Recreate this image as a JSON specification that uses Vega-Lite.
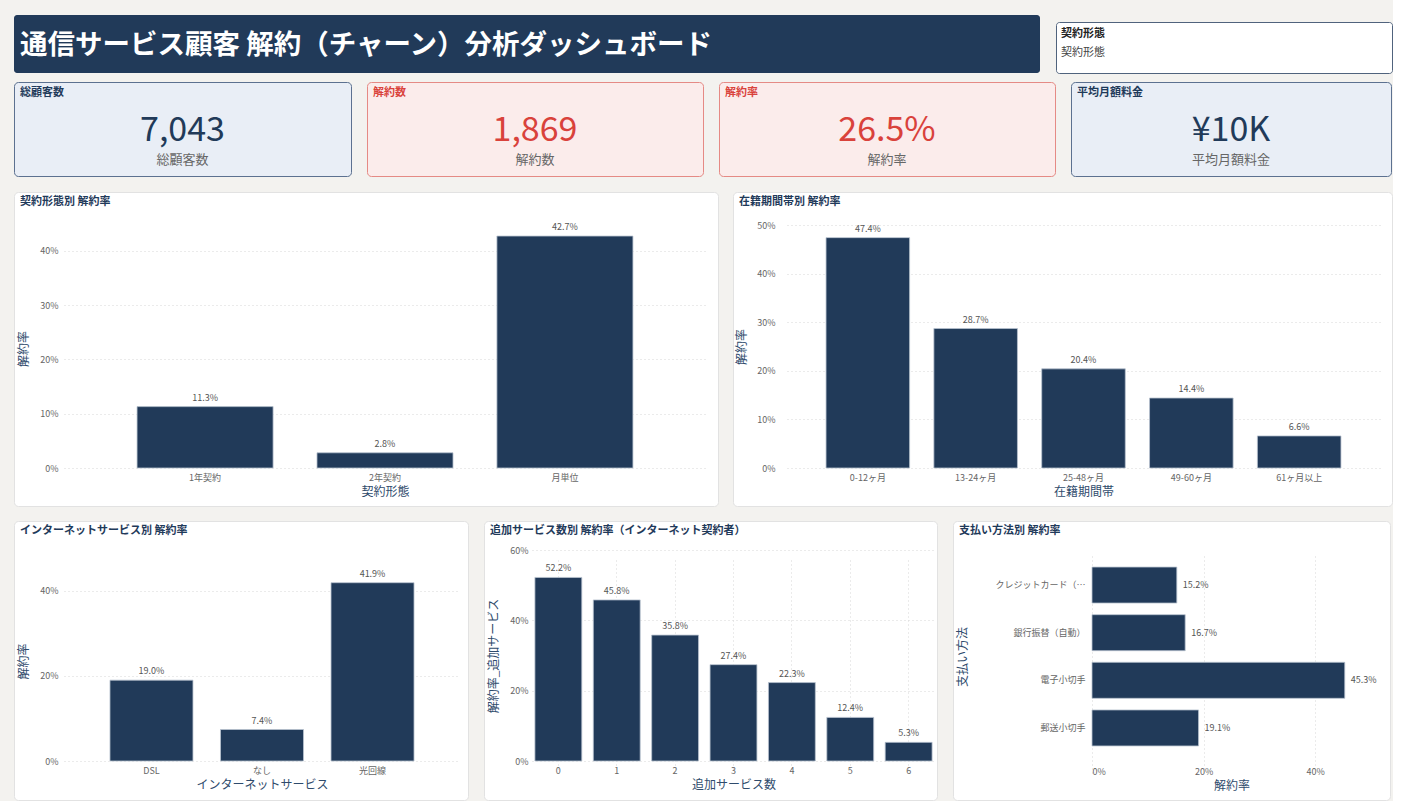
{
  "$schema": "https://vega.github.io/schema/vega-lite/v6.json",
  "background": "#f3f2ef",
  "padding": {"left": 13, "top": 15, "right": 0, "bottom": 0},
  "spacing": 14,
  "vconcat": [
    {
      "spacing": 7,
      "vconcat": [
        {
          "spacing": 15,
          "hconcat": [
            {
              "width": 1026,
              "height": 58,
              "view": {"fill": "#213a59", "stroke": null, "cornerRadius": 3},
              "title": {"text": "通信サービス顧客 解約（チャーン）分析ダッシュボード", "fontSize": 27.5, "color": "#ffffff", "offset": -44, "dx": 6},
              "data": {"values": [{}]},
              "mark": {"type": "text", "fontSize": 0},
              "encoding": {"text": {"value": ""}}
            },
            {
              "bounds": "flush",
              "spacing": 6,
              "vconcat": [
                {
                  "width": 336,
                  "height": 1,
                  "view": {"fill": null, "stroke": null},
                  "data": {"values": [{}]},
                  "mark": {"type": "text", "fontSize": 0},
                  "encoding": {"text": {"value": ""}}
                },
                {
                  "width": 336,
                  "height": 51,
                  "view": {"fill": "#ffffff", "stroke": "#50637d", "cornerRadius": 3},
                  "title": {"text": "契約形態", "subtitle": "契約形態", "fontSize": 11, "color": "#222222", "subtitleColor": "#444444", "subtitleFontSize": 11, "subtitlePadding": 8, "offset": -36, "dx": 5},
                  "data": {"values": [{}]},
                  "mark": {"type": "text", "fontSize": 0},
                  "encoding": {"text": {"value": ""}}
                }
              ]
            }
          ]
        },
        {
          "bounds": "flush",
          "spacing": 16,
          "hconcat": [
            {
              "width": 337,
              "height": 94,
              "view": {"fill": "#e9eef6", "stroke": "#5c7190", "cornerRadius": 4},
              "title": {"text": "総顧客数", "offset": -16, "dx": 6},
              "data": {"values": [{"value": "7,043", "label": "総顧客数"}]},
              "layer": [
                {"mark": {"type": "text", "fontSize": 34, "color": "#213a59", "baseline": "middle", "dy": 2}, "encoding": {"text": {"field": "value"}}},
                {"mark": {"type": "text", "fontSize": 13, "color": "#666666", "baseline": "middle", "dy": 31}, "encoding": {"text": {"field": "label"}}}
              ]
            },
            {
              "width": 336,
              "height": 94,
              "view": {"fill": "#fbeceb", "stroke": "#e58a85", "cornerRadius": 4},
              "title": {"text": "解約数", "offset": -16, "dx": 6, "color": "#d9423b"},
              "data": {"values": [{"value": "1,869", "label": "解約数"}]},
              "layer": [
                {"mark": {"type": "text", "fontSize": 34, "color": "#d9423b", "baseline": "middle", "dy": 2}, "encoding": {"text": {"field": "value"}}},
                {"mark": {"type": "text", "fontSize": 13, "color": "#666666", "baseline": "middle", "dy": 31}, "encoding": {"text": {"field": "label"}}}
              ]
            },
            {
              "width": 336,
              "height": 94,
              "view": {"fill": "#fbeceb", "stroke": "#e58a85", "cornerRadius": 4},
              "title": {"text": "解約率", "offset": -16, "dx": 6, "color": "#d9423b"},
              "data": {"values": [{"value": "26.5%", "label": "解約率"}]},
              "layer": [
                {"mark": {"type": "text", "fontSize": 34, "color": "#d9423b", "baseline": "middle", "dy": 2}, "encoding": {"text": {"field": "value"}}},
                {"mark": {"type": "text", "fontSize": 13, "color": "#666666", "baseline": "middle", "dy": 31}, "encoding": {"text": {"field": "label"}}}
              ]
            },
            {
              "width": 320,
              "height": 94,
              "view": {"fill": "#e9eef6", "stroke": "#5c7190", "cornerRadius": 4},
              "title": {"text": "平均月額料金", "offset": -16, "dx": 6},
              "data": {"values": [{"value": "¥10K", "label": "平均月額料金"}]},
              "layer": [
                {"mark": {"type": "text", "fontSize": 34, "color": "#213a59", "baseline": "middle", "dy": 2}, "encoding": {"text": {"field": "value"}}},
                {"mark": {"type": "text", "fontSize": 13, "color": "#666666", "baseline": "middle", "dy": 31}, "encoding": {"text": {"field": "label"}}}
              ]
            }
          ]
        }
      ]
    },
    {
      "spacing": 13,
      "vconcat": [
        {
          "bounds": "flush",
          "spacing": 15,
          "hconcat": [
            {
              "width": 704,
              "height": 314,
              "view": {"fill": "#ffffff", "stroke": "#e2e2e2", "cornerRadius": 4},
              "title": {"text": "契約形態別 解約率", "offset": -15, "dx": 6},
              "data": {"values": [
                {"契約形態": "1年契約", "解約率": 0.113},
                {"契約形態": "2年契約", "解約率": 0.028},
                {"契約形態": "月単位", "解約率": 0.427}
              ]},
              "encoding": {
                "x": {"field": "契約形態", "type": "nominal", "sort": null,
                  "scale": {"range": [50, 692], "paddingInner": 0.244, "paddingOuter": 0.406},
                  "axis": {"labelAngle": 0, "offset": -38, "labelPadding": 5, "title": "契約形態"}},
                "y": {"field": "解約率", "type": "quantitative",
                  "scale": {"domain": [0, 0.44], "range": [276, 37], "nice": false},
                  "axis": {"values": [0, 0.1, 0.2, 0.3, 0.4], "format": ".0%", "offset": -48, "titlePadding": 9}}
              },
              "layer": [
                {"mark": {"type": "bar", "color": "#213a59", "stroke": "#b9c3cf", "strokeWidth": 0.8}},
                {"mark": {"type": "text", "baseline": "bottom", "dy": -4, "fontSize": 9, "color": "#555555"},
                  "encoding": {"text": {"field": "解約率", "type": "quantitative", "format": ".1%"}}}
              ]
            },
            {
              "width": 659,
              "height": 314,
              "view": {"fill": "#ffffff", "stroke": "#e2e2e2", "cornerRadius": 4},
              "title": {"text": "在籍期間帯別 解約率", "offset": -15, "dx": 6},
              "data": {"values": [
                {"在籍期間帯": "0-12ヶ月", "解約率": 0.474},
                {"在籍期間帯": "13-24ヶ月", "解約率": 0.287},
                {"在籍期間帯": "25-48ヶ月", "解約率": 0.204},
                {"在籍期間帯": "49-60ヶ月", "解約率": 0.144},
                {"在籍期間帯": "61ヶ月以上", "解約率": 0.066}
              ]},
              "encoding": {
                "x": {"field": "在籍期間帯", "type": "nominal", "sort": null,
                  "scale": {"range": [54, 647], "paddingInner": 0.225, "paddingOuter": 0.362},
                  "axis": {"labelAngle": 0, "offset": -38, "labelPadding": 5, "title": "在籍期間帯"}},
                "y": {"field": "解約率", "type": "quantitative",
                  "scale": {"domain": [0, 0.5], "range": [276, 33], "nice": false},
                  "axis": {"values": [0, 0.1, 0.2, 0.3, 0.4, 0.5], "format": ".0%", "offset": -46, "titlePadding": 8}}
              },
              "layer": [
                {"mark": {"type": "bar", "color": "#213a59", "stroke": "#b9c3cf", "strokeWidth": 0.8}},
                {"mark": {"type": "text", "baseline": "bottom", "dy": -4, "fontSize": 9, "color": "#555555"},
                  "encoding": {"text": {"field": "解約率", "type": "quantitative", "format": ".1%"}}}
              ]
            }
          ]
        },
        {
          "bounds": "flush",
          "spacing": 16,
          "hconcat": [
            {
              "width": 454,
              "height": 279,
              "view": {"fill": "#ffffff", "stroke": "#e2e2e2", "cornerRadius": 4},
              "title": {"text": "インターネットサービス別 解約率", "offset": -15, "dx": 6},
              "data": {"values": [
                {"インターネットサービス": "DSL", "解約率": 0.190},
                {"インターネットサービス": "なし", "解約率": 0.074},
                {"インターネットサービス": "光回線", "解約率": 0.419}
              ]},
              "encoding": {
                "x": {"field": "インターネットサービス", "type": "nominal", "sort": null,
                  "scale": {"range": [50, 446], "paddingInner": 0.249, "paddingOuter": 0.416},
                  "axis": {"labelAngle": 0, "offset": -39, "labelPadding": 5, "title": "インターネットサービス"}},
                "y": {"field": "解約率", "type": "quantitative",
                  "scale": {"domain": [0, 0.47], "range": [240, 40], "nice": false},
                  "axis": {"values": [0, 0.2, 0.4], "format": ".0%", "offset": -48, "titlePadding": 9}}
              },
              "layer": [
                {"mark": {"type": "bar", "color": "#213a59", "stroke": "#b9c3cf", "strokeWidth": 0.8}},
                {"mark": {"type": "text", "baseline": "bottom", "dy": -4, "fontSize": 9, "color": "#555555"},
                  "encoding": {"text": {"field": "解約率", "type": "quantitative", "format": ".1%"}}}
              ]
            },
            {
              "width": 453,
              "height": 279,
              "view": {"fill": "#ffffff", "stroke": "#e2e2e2", "cornerRadius": 4},
              "title": {"text": "追加サービス数別 解約率（インターネット契約者）", "offset": -15, "dx": 6},
              "data": {"values": [
                {"追加サービス数": 0, "解約率": 0.522},
                {"追加サービス数": 1, "解約率": 0.458},
                {"追加サービス数": 2, "解約率": 0.358},
                {"追加サービス数": 3, "解約率": 0.274},
                {"追加サービス数": 4, "解約率": 0.223},
                {"追加サービス数": 5, "解約率": 0.124},
                {"追加サービス数": 6, "解約率": 0.053}
              ]},
              "encoding": {
                "x": {"field": "追加サービス数", "type": "ordinal",
                  "scale": {"range": [48, 451], "paddingInner": 0.197, "paddingOuter": 0.05},
                  "axis": {"labelAngle": 0, "offset": -39, "labelPadding": 5, "title": "追加サービス数", "grid": true, "bandPosition": 0.5}},
                "y": {"field": "解約率", "type": "quantitative",
                  "scale": {"domain": [0, 0.6], "range": [240, 29], "nice": false},
                  "axis": {"values": [0, 0.2, 0.4, 0.6], "format": ".0%", "offset": -48, "titlePadding": 9, "title": "解約率_追加サービス"}}
              },
              "layer": [
                {"mark": {"type": "bar", "color": "#213a59", "stroke": "#b9c3cf", "strokeWidth": 0.8}},
                {"mark": {"type": "text", "baseline": "bottom", "dy": -4, "fontSize": 9, "color": "#555555"},
                  "encoding": {"text": {"field": "解約率", "type": "quantitative", "format": ".1%"}}}
              ]
            },
            {
              "width": 437,
              "height": 279,
              "view": {"fill": "#ffffff", "stroke": "#e2e2e2", "cornerRadius": 4},
              "title": {"text": "支払い方法別 解約率", "offset": -15, "dx": 6},
              "data": {"values": [
                {"支払い方法": "クレジットカード（自動）", "解約率": 0.152},
                {"支払い方法": "銀行振替（自動）", "解約率": 0.167},
                {"支払い方法": "電子小切手", "解約率": 0.453},
                {"支払い方法": "郵送小切手", "解約率": 0.191}
              ]},
              "encoding": {
                "y": {"field": "支払い方法", "type": "nominal", "sort": null,
                  "scale": {"range": [27, 244], "paddingInner": 0.244, "paddingOuter": 0.4},
                  "axis": {"offset": -136, "title": "支払い方法", "labelLimit": 95, "titlePadding": 25}},
                "x": {"field": "解約率", "type": "quantitative",
                  "scale": {"domain": [0, 0.5], "range": [139, 418], "nice": false},
                  "axis": {"values": [0, 0.2, 0.4], "format": ".0%", "offset": -37, "title": "解約率"}}
              },
              "layer": [
                {"mark": {"type": "bar", "color": "#213a59", "stroke": "#b9c3cf", "strokeWidth": 0.8}},
                {"mark": {"type": "text", "align": "left", "baseline": "middle", "dx": 6, "fontSize": 9, "color": "#555555"},
                  "encoding": {"text": {"field": "解約率", "type": "quantitative", "format": ".1%"}}}
              ]
            }
          ]
        }
      ]
    }
  ],
  "config": {
    "font": "Noto Sans CJK JP",
    "title": {"anchor": "start", "frame": "group", "fontSize": 11, "fontWeight": "bold", "color": "#1f3a5a"},
    "axis": {
      "domain": false,
      "ticks": false,
      "labelFontSize": 9,
      "labelColor": "#666666",
      "labelPadding": 4,
      "titleFontSize": 12,
      "titleFontWeight": "normal",
      "titleColor": "#2f4b6c",
      "titlePadding": 4,
      "gridColor": "#d6d6d6",
      "gridDash": [1, 3]
    }
  }
}
